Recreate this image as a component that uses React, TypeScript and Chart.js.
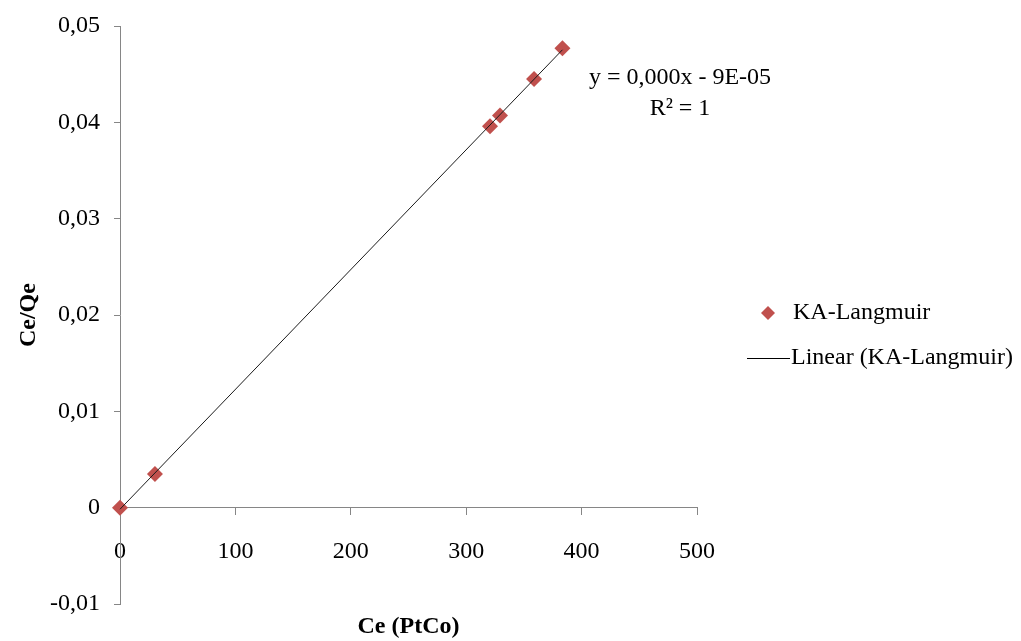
import React, { useEffect, useRef } from 'react';
import { Chart, registerables } from 'chart.js';

Chart.register(...registerables);

// ---- data ----
const ceValues = [0, 30.3, 320.6, 329.3, 358.8, 383.4];
const ceQeValues = [0, 0.0035, 0.0396, 0.0407, 0.0445, 0.0477];
const xTickValues = [0, 100, 200, 300, 400, 500];
const yTickValues = [-0.01, 0, 0.01, 0.02, 0.03, 0.04, 0.05];
const seriesName = 'KA-Langmuir';
const trendName = 'Linear (KA-Langmuir)';
const equationLines = ['y = 0,000x - 9E-05', 'R\u00B2 = 1'];
const xTitle = 'Ce (PtCo)';
const yTitle = 'Ce/Qe';

const FONT = "'Liberation Serif', 'Times New Roman', serif";
const AXIS_COLOR = '#868686';
const POINT_COLOR = '#C0504D';

function linearFit(xs: number[], ys: number[]) {
  const n = xs.length;
  const mx = xs.reduce((a, b) => a + b, 0) / n;
  const my = ys.reduce((a, b) => a + b, 0) / n;
  let sxy = 0;
  let sxx = 0;
  for (let i = 0; i < n; i++) {
    sxy += (xs[i] - mx) * (ys[i] - my);
    sxx += (xs[i] - mx) * (xs[i] - mx);
  }
  const slope = sxy / sxx;
  return { slope, intercept: my - slope * mx };
}

const fmtComma = (v: number) => {
  if (Math.abs(v) < 1e-12) return '0';
  return v.toFixed(2).replace('.', ',');
};

const annotationPlugin = {
  id: 'annotations',
  afterDraw(chart: any) {
    const { ctx, chartArea } = chart;
    ctx.save();
    ctx.fillStyle = '#000';
    ctx.font = `24px ${FONT}`;
    ctx.textAlign = 'center';
    ctx.textBaseline = 'middle';
    // trendline equation
    const ex = chartArea.right - 17;
    ctx.fillText(equationLines[0], ex, chartArea.top + 52);
    ctx.fillText(equationLines[1], ex, chartArea.top + 83);

    // legend
    const midY = (chartArea.top + chartArea.bottom) / 2;
    const y1 = midY - 2;
    const y2 = midY + 43;
    const dx = chartArea.right + 71;
    const r = 7;
    ctx.fillStyle = POINT_COLOR;
    ctx.beginPath();
    ctx.moveTo(dx - r, y1);
    ctx.lineTo(dx, y1 - r);
    ctx.lineTo(dx + r, y1);
    ctx.lineTo(dx, y1 + r);
    ctx.closePath();
    ctx.fill();

    ctx.strokeStyle = '#000';
    ctx.lineWidth = 1;
    ctx.beginPath();
    ctx.moveTo(chartArea.right + 50, Math.round(y2) + 0.5);
    ctx.lineTo(chartArea.right + 93, Math.round(y2) + 0.5);
    ctx.stroke();

    ctx.fillStyle = '#000';
    ctx.textAlign = 'left';
    ctx.fillText(seriesName, chartArea.right + 96, y1);
    ctx.fillText(trendName, chartArea.right + 94, y2);
    ctx.restore();
  },
};

export default function App() {
  const canvasRef = useRef<HTMLCanvasElement | null>(null);

  useEffect(() => {
    if (!canvasRef.current) return;
    const fit = linearFit(ceValues, ceQeValues);
    const xMin = Math.min(...ceValues);
    const xMax = Math.max(...ceValues);
    const trendData = [
      { x: xMin, y: fit.slope * xMin + fit.intercept },
      { x: xMax, y: fit.slope * xMax + fit.intercept },
    ];
    const points = ceValues.map((x, i) => ({ x, y: ceQeValues[i] }));

    const chart = new Chart(canvasRef.current, {
      type: 'scatter',
      data: {
        datasets: [
          {
            type: 'line',
            label: trendName,
            data: trendData,
            borderColor: '#1a1a1a',
            borderWidth: 1,
            pointRadius: 0,
            fill: false,
            order: 1,
            clip: false,
          } as any,
          {
            label: seriesName,
            data: points,
            pointStyle: 'rectRot',
            pointRadius: 8,
            pointBackgroundColor: POINT_COLOR,
            pointBorderColor: POINT_COLOR,
            pointBorderWidth: 0,
            order: 2,
            clip: false,
          } as any,
        ],
      },
      options: {
        responsive: false,
        animation: false,
        events: [],
        layout: { padding: { left: 0, top: 25, right: 324, bottom: 0 } },
        plugins: {
          legend: { display: false },
          tooltip: { enabled: false },
        },
        scales: {
          x: {
            type: 'linear',
            position: { y: 0 } as any,
            min: 0,
            max: 500,
            afterBuildTicks: (scale: any) => {
              scale.ticks = xTickValues.map((v) => ({ value: v }));
            },
            grid: {
              display: true,
              drawOnChartArea: false,
              drawTicks: true,
              tickLength: 7,
              color: AXIS_COLOR,
            },
            border: { display: true, color: AXIS_COLOR, width: 1 },
            ticks: {
              color: '#000',
              font: { family: FONT, size: 24 },
              padding: 22,
              maxRotation: 0,
              autoSkip: false,
              callback: (v: any) => String(v),
            },
          },
          x2: {
            type: 'linear',
            position: 'bottom',
            display: true,
            grid: { display: false },
            border: { display: false },
            ticks: { display: false },
            title: {
              display: true,
              text: xTitle,
              color: '#000',
              font: { family: FONT, size: 24, weight: 'bold' },
              padding: { top: 0, bottom: 0 },
            },
          },
          y: {
            type: 'linear',
            position: 'left',
            min: -0.01,
            max: 0.05,
            afterBuildTicks: (scale: any) => {
              scale.ticks = yTickValues.map((v) => ({ value: v }));
            },
            afterFit: (scale: any) => {
              scale.width = 120;
            },
            grid: {
              display: true,
              drawOnChartArea: false,
              drawTicks: true,
              tickLength: 6,
              color: AXIS_COLOR,
            },
            border: { display: true, color: AXIS_COLOR, width: 1 },
            ticks: {
              color: '#000',
              font: { family: FONT, size: 24, lineHeight: 1 },
              padding: 14,
              autoSkip: false,
              callback: (v: any) => fmtComma(Number(v)),
            },
            title: {
              display: true,
              text: yTitle,
              color: '#000',
              font: { family: FONT, size: 24, weight: 'bold' },
              padding: { top: 14, bottom: 0 },
            },
          },
        },
      } as any,
      plugins: [annotationPlugin],
    });

    return () => {
      chart.destroy();
    };
  }, []);

  return (
    <div
      style={{
        position: 'fixed',
        left: 0,
        top: 0,
        width: 1021,
        height: 641,
        background: '#fff',
      }}
    >
      <canvas ref={canvasRef} width={1021} height={641} style={{ display: 'block' }} />
    </div>
  );
}
